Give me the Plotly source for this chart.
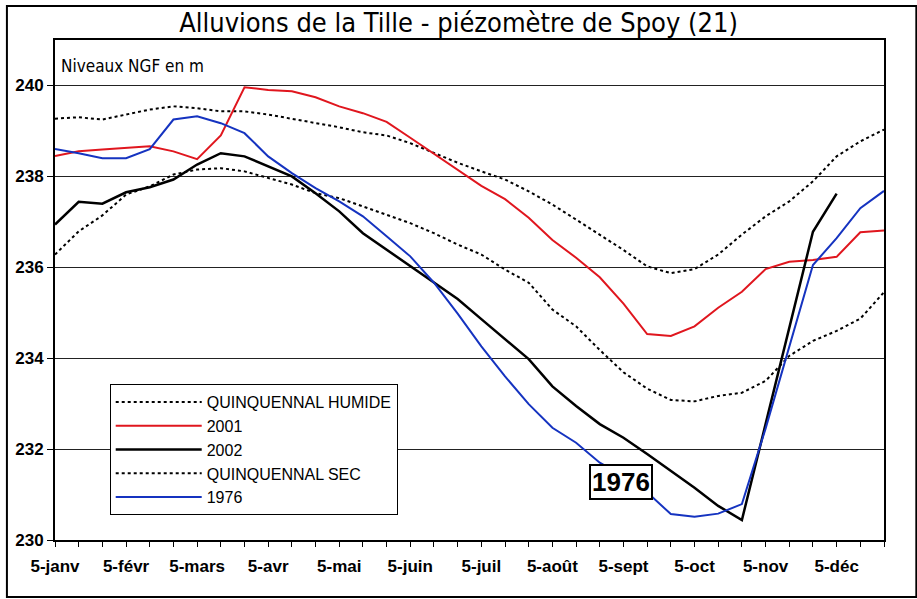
import plotly.graph_objects as go

months = ['janv', 'févr', 'mars', 'avr', 'mai', 'juin',
          'juil', 'août', 'sept', 'oct', 'nov', 'déc']
dates = [f'{d}-{m}' for m in months for d in (5, 15, 25)]
tick_labels = [d if d.startswith('5-') else '' for d in dates]

quinq_humide = [
    239.27, 239.30, 239.25, 239.36, 239.47, 239.54, 239.50, 239.43, 239.43, 239.36,
    239.27, 239.17, 239.08, 238.97, 238.90, 238.73, 238.51, 238.30, 238.11, 237.93,
    237.67, 237.38, 237.05, 236.72, 236.38, 236.02, 235.87, 235.96, 236.28, 236.72,
    237.12, 237.45, 237.89, 238.44, 238.77, 239.03,
]
y2001 = [
    238.45, 238.55, 238.59, 238.62, 238.66, 238.55, 238.38, 238.90, 239.96, 239.90,
    239.87, 239.74, 239.54, 239.39, 239.20, 238.85, 238.50, 238.15, 237.79, 237.50,
    237.09, 236.60, 236.21, 235.78, 235.20, 234.53, 234.49, 234.70, 235.11, 235.46,
    235.96, 236.12, 236.16, 236.23, 236.77, 236.81,
]
y2002 = [
    236.94, 237.44, 237.40, 237.65, 237.76, 237.93, 238.26, 238.51, 238.44, 238.22,
    238.00, 237.63, 237.23, 236.75, 236.39, 236.02, 235.66, 235.30, 234.86, 234.42,
    233.98, 233.38, 232.95, 232.55, 232.25, 231.89, 231.52, 231.15, 230.75, 230.44,
    232.55, 234.67, 236.78, 237.62, None, None,
]
quinq_sec = [
    236.28, 236.79, 237.14, 237.60, 237.78, 238.04, 238.15, 238.18, 238.11, 237.96,
    237.82, 237.63, 237.52, 237.34, 237.16, 236.97, 236.75, 236.50, 236.28, 235.95,
    235.66, 235.07, 234.70, 234.18, 233.69, 233.33, 233.08, 233.05, 233.17, 233.24,
    233.50, 234.05, 234.38, 234.60, 234.87, 235.45,
]
y1976 = [
    238.60, 238.51, 238.40, 238.40, 238.60, 239.25, 239.32, 239.17, 238.95, 238.44,
    238.07, 237.74, 237.45, 237.12, 236.68, 236.24, 235.66, 234.98, 234.26, 233.60,
    232.99, 232.47, 232.14, 231.70, 231.40, 231.05, 230.57, 230.51, 230.58, 230.79,
    232.45, 234.25, 236.05, 236.64, 237.30, 237.68,
]

arial = 'Liberation Sans, Arial, sans-serif'
narrow = 'Liberation Sans Narrow, Arial Narrow, DejaVu Sans Condensed, sans-serif'

fig = go.Figure()
fig.add_trace(go.Scatter(x=dates, y=quinq_humide, name='QUINQUENNAL HUMIDE', mode='lines',
                         line=dict(color='black', width=2, dash='dot')))
fig.add_trace(go.Scatter(x=dates, y=y2001, name='2001', mode='lines',
                         line=dict(color='#e0161e', width=2)))
fig.add_trace(go.Scatter(x=dates, y=y2002, name='2002', mode='lines',
                         line=dict(color='black', width=2.5)))
fig.add_trace(go.Scatter(x=dates, y=quinq_sec, name='QUINQUENNAL SEC', mode='lines',
                         line=dict(color='black', width=2, dash='dot')))
fig.add_trace(go.Scatter(x=dates, y=y1976, name='1976', mode='lines',
                         line=dict(color='#1533c0', width=2)))

fig.update_layout(
    width=917, height=599,
    margin=dict(l=55, r=33, t=40, b=59),
    paper_bgcolor='white', plot_bgcolor='white',
    font=dict(family=arial, color='black'),
    title=dict(text='Alluvions de la Tille - piézomètre de Spoy (21)',
               font=dict(family=narrow, size=27, color='black'),
               x=0.5, xanchor='center', y=0.962, yanchor='middle'),
    xaxis=dict(type='category', range=[0, 35], tickmode='array',
               tickvals=dates, ticktext=tick_labels, automargin=False,
               showgrid=False, showline=True, mirror=True,
               linecolor='black', linewidth=2,
               ticks='outside', ticklen=5, tickcolor='black', tickwidth=1,
               ticklabelstandoff=5,
               tickfont=dict(family=arial, size=17, color='black', weight='bold')),
    yaxis=dict(range=[230, 241], tickvals=[230, 232, 234, 236, 238, 240],
               automargin=False,
               showgrid=True, gridcolor='#222', gridwidth=1,
               showline=True, mirror=True, linecolor='black', linewidth=2,
               ticks='outside', ticklen=6, tickcolor='black', zeroline=False,
               tickfont=dict(family=arial, size=17, color='black', weight='bold')),
    legend=dict(x=0.066, y=0.312, xanchor='left', yanchor='top',
                bgcolor='white', bordercolor='black', borderwidth=1,
                font=dict(family=arial, size=16, color='black'),
                itemwidth=86, traceorder='normal'),
    annotations=[
        dict(text='Niveaux NGF en m', xref='paper', yref='paper', x=0.005, y=0.948,
             xanchor='left', yanchor='middle', showarrow=False,
             font=dict(family=narrow, size=17, color='black')),
        dict(text='<b>1976</b>', xref='paper', yref='paper', x=0.683, y=0.116,
             xanchor='center', yanchor='middle', showarrow=False,
             bgcolor='white', bordercolor='black', borderwidth=2, borderpad=1,
             font=dict(family=arial, size=26, color='black')),
    ],
    shapes=[
        dict(type='rect', xref='paper', yref='paper',
             x0=-0.058, x1=1.039, y0=-0.114, y1=1.068,
             line=dict(color='black', width=2)),
    ],
)

# the page body has a default 8px margin; remove it so the figure sits at 0,0
fig.write_html('out.html', config={'displayModeBar': False},
               post_script="document.body.style.margin='0';")
